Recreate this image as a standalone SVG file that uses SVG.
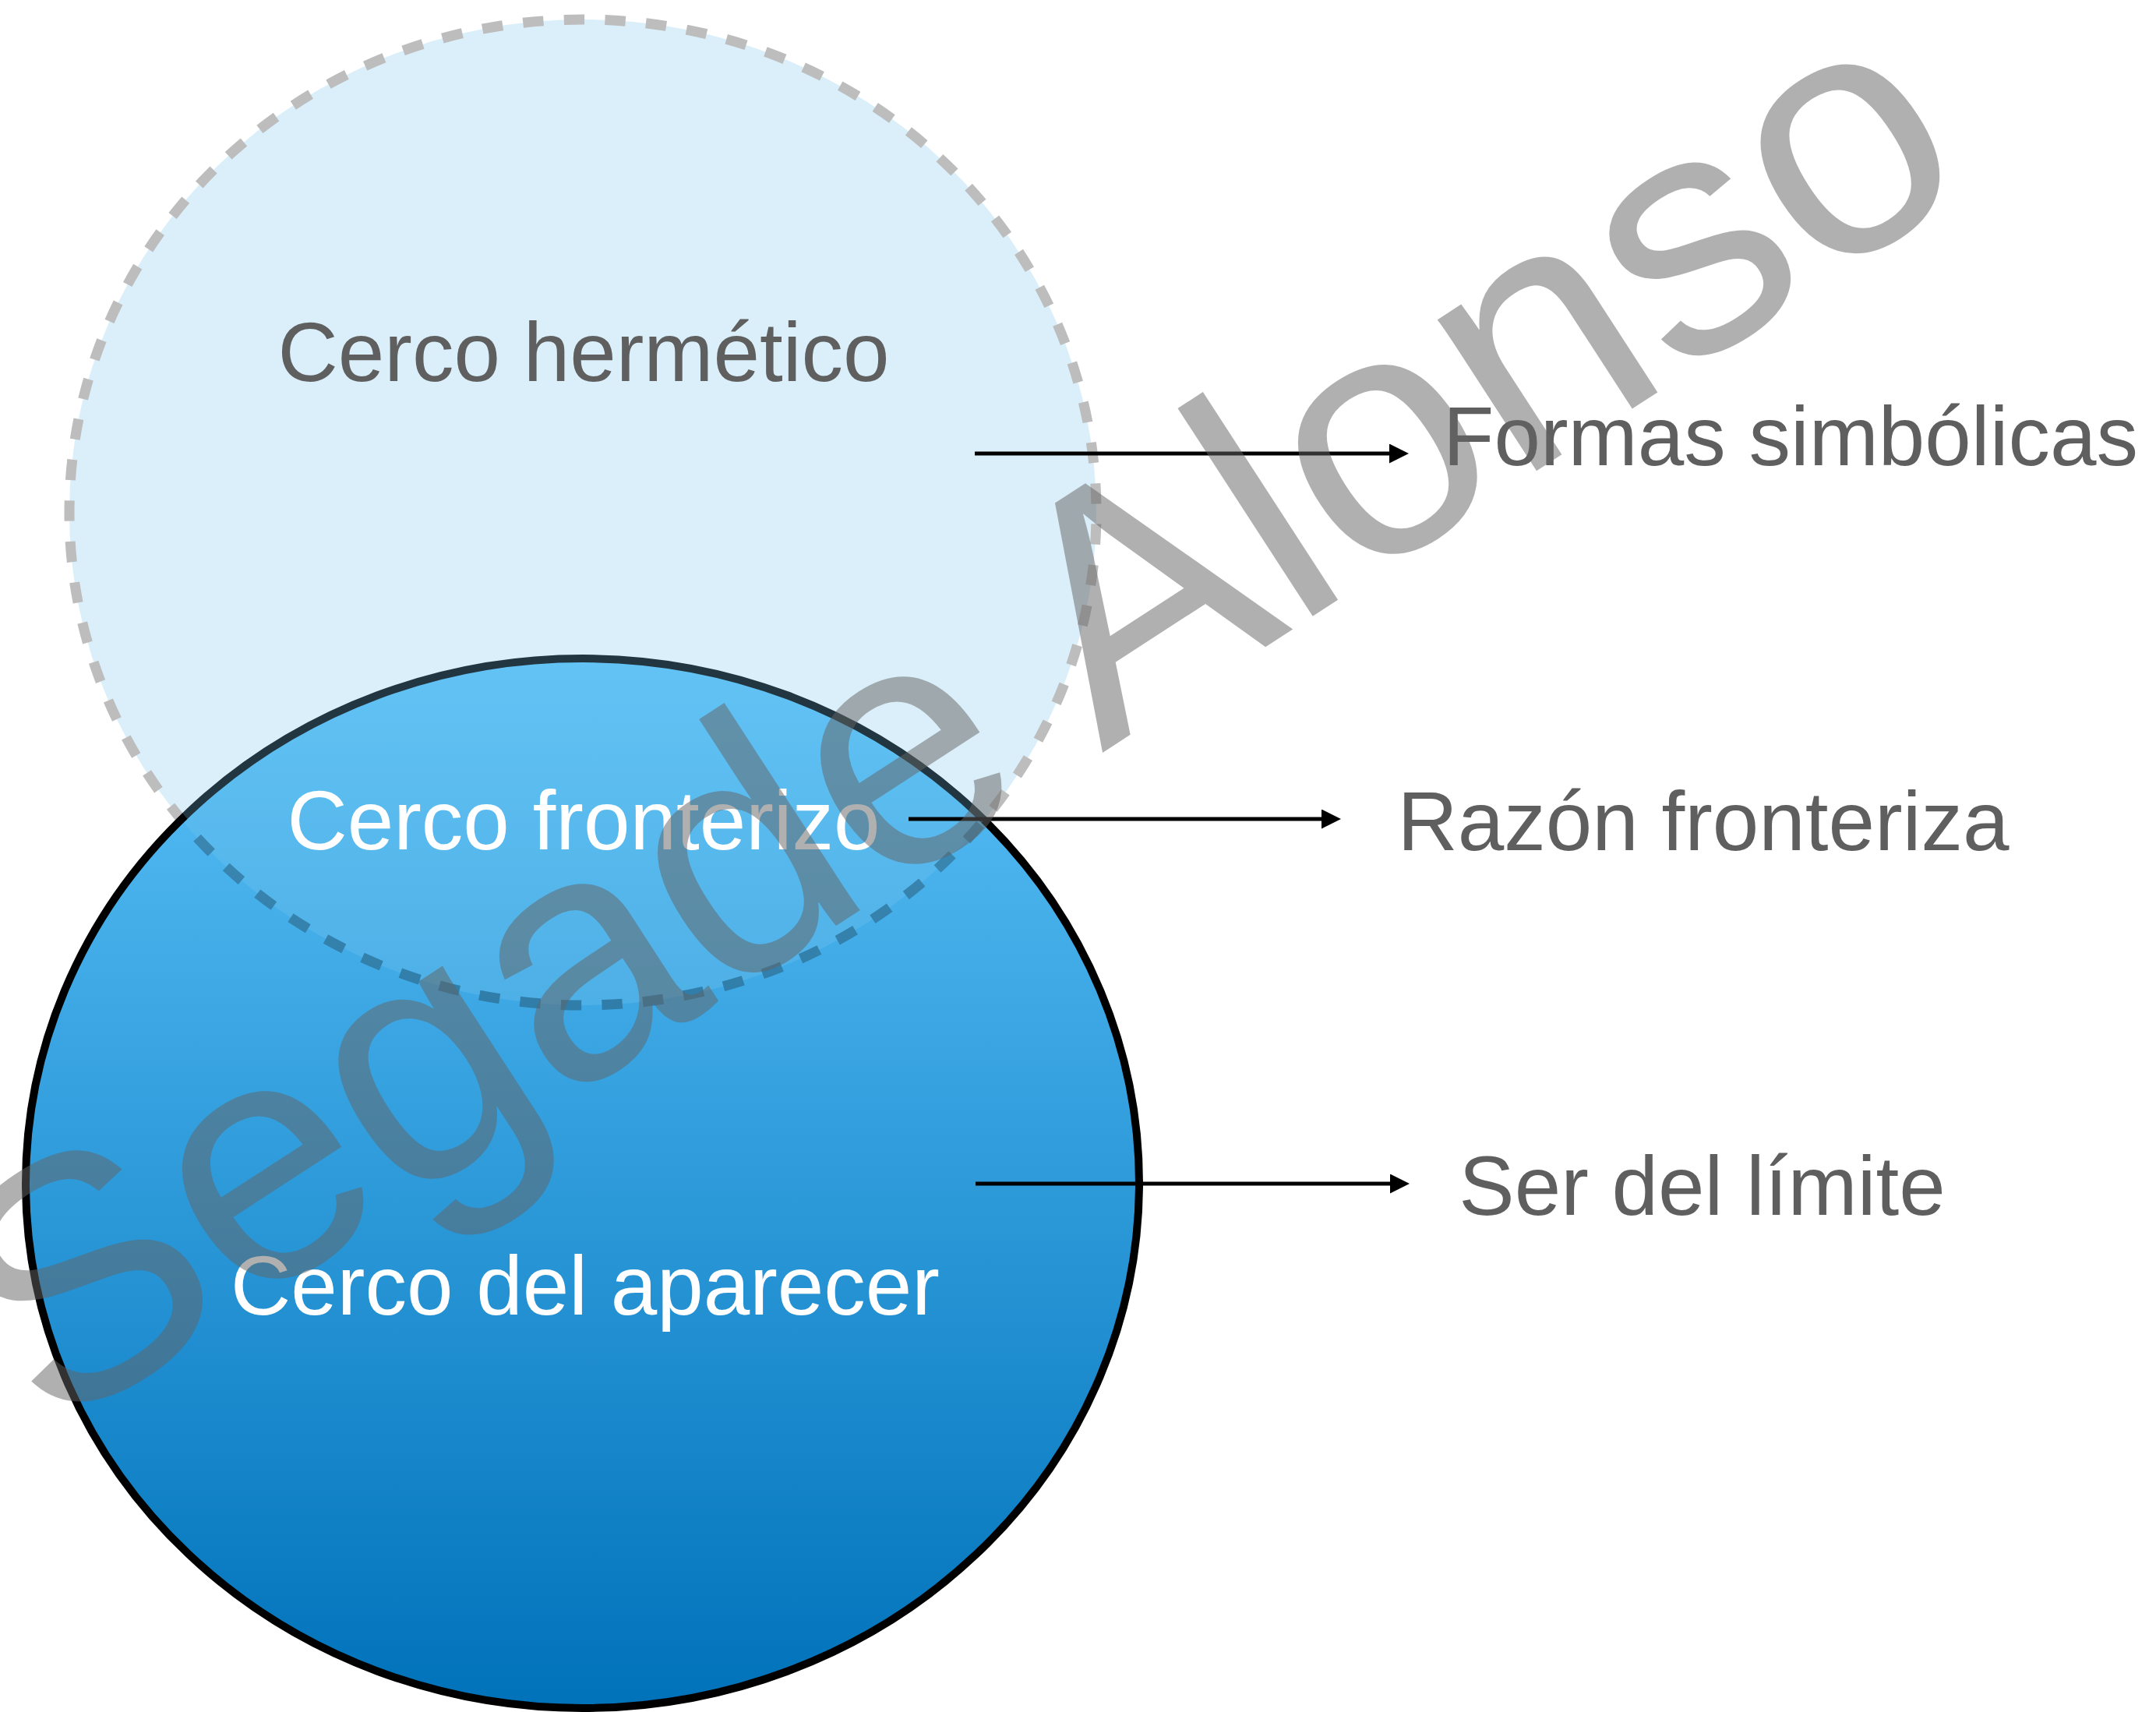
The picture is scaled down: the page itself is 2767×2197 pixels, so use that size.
<svg xmlns="http://www.w3.org/2000/svg" width="2767" height="2197" viewBox="0 0 2767 2197">
  <defs>
    <linearGradient id="blueGrad" x1="0" y1="0" x2="0" y2="1">
      <stop offset="0" stop-color="#5BC2F9"/>
      <stop offset="1" stop-color="#0072BA"/>
    </linearGradient>
    <marker id="arrowHead" markerUnits="userSpaceOnUse" viewBox="0 0 25 25" refX="5" refY="12.5" markerWidth="25" markerHeight="25" orient="auto">
      <path d="M0,0 L25,12.5 L0,25 Z" fill="#000"/>
    </marker>
  </defs>
  <style>
    .label { font-family: "Liberation Sans", Arial, Helvetica, sans-serif; font-size: 107px; text-anchor: middle; }
    .dark { fill: #5F5F5F; }
    .light { fill: #FFFFFF; }
    .conn { stroke: #000; stroke-width: 5; fill: none; marker-end: url(#arrowHead); }
    .watermark { font-family: "Liberation Sans", Arial, Helvetica, sans-serif; font-size: 439px; fill: #646464; opacity: 0.5; }
  </style>
  <rect x="0" y="0" width="2767" height="2197" fill="#FFFFFF"/>

  <g id="cerco-aparecer">
    <ellipse cx="747.5" cy="1518.5" rx="714.5" ry="673.5" fill="url(#blueGrad)" stroke="#000" stroke-width="10"/>
    <text class="label light" x="751" y="1687">Cerco del aparecer</text>
  </g>

  <g id="cerco-hermetico">
    <ellipse cx="748" cy="657.5" rx="659" ry="632.5" fill="#7AC7EC" stroke="#0E0E0E" stroke-width="13" stroke-dasharray="26.35 26.35" stroke-dashoffset="37.8" opacity="0.27"/>
    <text class="label dark" x="749" y="489">Cerco hermético</text>
  </g>

  <g id="cerco-fronterizo">
    <text class="label light" x="749" y="1090">Cerco fronterizo</text>
  </g>

  <g id="formas-simbolicas">
    <text class="label dark" x="2298" y="597">Formas simbólicas</text>
  </g>

  <g id="razon-fronteriza">
    <text class="label dark" x="2186" y="1091">Razón fronteriza</text>
  </g>

  <g id="ser-del-limite">
    <text class="label dark" x="2184.5" y="1559">Ser del límite</text>
  </g>

  <g id="connectors">
    <line class="conn" x1="1251" y1="582" x2="1788" y2="582"/>
    <line class="conn" x1="1166" y1="1051" x2="1701" y2="1051"/>
    <line class="conn" x1="1252" y1="1519" x2="1789" y2="1519"/>
  </g>

  <text class="watermark" transform="translate(63,1844) rotate(-33)" x="0" y="0">Segade Alonso</text>
</svg>
